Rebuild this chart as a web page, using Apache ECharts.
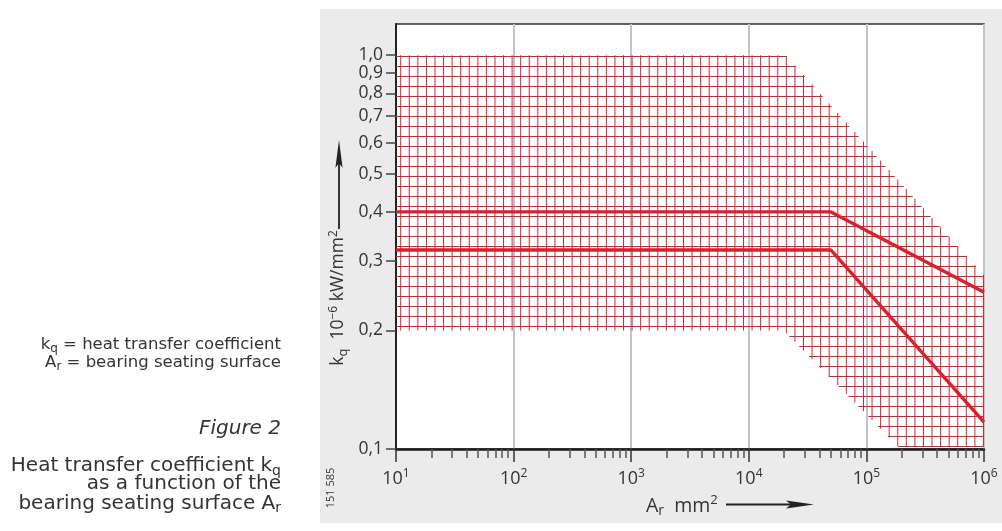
<!DOCTYPE html>
<html>
<head>
<meta charset="utf-8">
<script src="https://cdn.jsdelivr.net/npm/echarts@6/dist/echarts.min.js"></script>
<style>
html,body{margin:0;padding:0;background:#ffffff;}
#chart{width:1002px;height:531px;}
</style>
</head>
<body>
<div id="chart"></div>
<script>
// ---------- data ----------
const X_MIN = 10, X_MAX = 1000000;
const Y_MIN = 0.1, Y_MAX = 1.2;
const X_MAJOR_TICKS = [10, 100, 1000, 10000, 100000, 1000000];
const X_TICK_EXPONENTS = ['1', '2', '3', '4', '5', '6'];
const X_MINOR_FACTORS = [2, 3, 4, 5, 6, 7, 8, 9];
const Y_TICKS = [0.1, 0.2, 0.3, 0.4, 0.5, 0.6, 0.7, 0.8, 0.9, 1.0];
const Y_TICK_LABELS = ['0,1', '0,2', '0,3', '0,4', '0,5', '0,6', '0,7', '0,8', '0,9', '1,0'];

// hatched region (polygon vertices): A_r [mm²], k_q
const REGION_A = [10, 20600, 1000000, 1000000, 188000, 19800, 10];
const REGION_K = [1.0, 1.0, 0.276, 0.1012, 0.1012, 0.2, 0.2];

// two limit curves
const UPPER_A = [10, 50000, 1000000];
const UPPER_K = [0.4, 0.4, 0.25];
const LOWER_A = [10, 50000, 1000000];
const LOWER_K = [0.32, 0.32, 0.117];

// ---------- style ----------
const FONT = '"Open Sans", "Noto Sans", sans-serif';
const FONT2 = '"DejaVu Sans", "Open Sans", sans-serif';
const TXT = '#333333';
const RED = '#e3202b';
const LINE_RED = '#d8222d';
const HATCH = { dx: 8.57, dy: 10, colOffset: 4.7, rowOffset: 1 };

const X_MINOR_TICKS = [];
X_MAJOR_TICKS.slice(0, -1).forEach(d => X_MINOR_FACTORS.forEach(f => X_MINOR_TICKS.push(f * d)));

function near(a, b) { return Math.abs(a - b) <= Math.abs(b) * 1e-6; }

function hatchItem(params, api) {
  if (params.dataIndex !== 0) return null;
  const pts = REGION_A.map((a, i) => api.coord([a, REGION_K[i]]));
  const xs = pts.map(p => p[0]), ys = pts.map(p => p[1]);
  const x0 = Math.min.apply(null, xs), x1 = Math.max.apply(null, xs);
  const y0 = Math.min.apply(null, ys), y1 = Math.max.apply(null, ys);
  function cross(axis, v) {
    const out = [];
    for (let i = 0; i < pts.length; i++) {
      const p = pts[i], q = pts[(i + 1) % pts.length];
      const a = p[axis], b = q[axis];
      if (a === b) continue;
      if ((v - a) * (v - b) <= 0) {
        const t = (v - a) / (b - a);
        out.push(p[1 - axis] + t * (q[1 - axis] - p[1 - axis]));
      }
    }
    return out;
  }
  const children = [];
  for (let y = y0 + HATCH.rowOffset; y <= y1 + 0.01; y += HATCH.dy) {
    const c = cross(1, y);
    if (c.length < 2) continue;
    const a = Math.min.apply(null, c), b = Math.max.apply(null, c);
    children.push({ type: 'rect', shape: { x: a, y: Math.floor(y), width: b - a, height: 1 },
      style: { fill: RED } });
  }
  for (let x = x0 + HATCH.colOffset; x <= x1 + 0.01; x += HATCH.dx) {
    const c = cross(0, x);
    if (c.length < 2) continue;
    const a = Math.min.apply(null, c), b = Math.max.apply(null, c);
    children.push({ type: 'rect', shape: { x: x - 0.5, y: a, width: 1, height: b - a },
      style: { fill: RED } });
  }
  return { type: 'group', children: children };
}

const chart = echarts.init(document.getElementById('chart'), null, { renderer: 'canvas' });

const richSub = (size, fam) => ({
  m: { fontSize: size, lineHeight: size + 5, fontFamily: fam || FONT, fill: TXT },
  s: { fontSize: Math.round(size * 0.72), lineHeight: 8, verticalAlign: 'bottom', fontFamily: fam || FONT, fill: TXT },
  sup: { fontSize: Math.round(size * 0.68), lineHeight: 8, verticalAlign: 'top', fontFamily: fam || FONT, fill: TXT }
});

function leftText(x, y, text, size, italic) {
  const rich = richSub(size, FONT2);
  if (italic) { rich.m.fontStyle = 'italic'; }
  return { type: 'text', x: x, y: y, z: 100,
    style: { text: text, align: 'right', verticalAlign: 'middle', rich: rich, fontFamily: FONT2, fill: TXT } };
}

const option = {
  backgroundColor: '#ffffff',
  animation: false,
  grid: { left: 396, top: 24, right: 18, bottom: 82, show: true, backgroundColor: '#ffffff',
    borderColor: '#333333', borderWidth: 1.5, containLabel: false, outerBoundsMode: 'none' },
  xAxis: [
    { type: 'log', logBase: 10, min: X_MIN, max: X_MAX, position: 'bottom',
      axisLine: { show: true, onZero: false, lineStyle: { color: '#1c1c1c', width: 2.5 } },
      axisTick: { show: true, customValues: X_MAJOR_TICKS, length: 13, lineStyle: { color: '#333', width: 1.5 } },
      axisLabel: { show: true, customValues: X_MAJOR_TICKS, margin: 19,
        formatter: function (v) {
          let i = X_MAJOR_TICKS.findIndex(t => near(v, t));
          return i < 0 ? '' : '{b|10}{sup|' + X_TICK_EXPONENTS[i] + '}';
        },
        rich: {
          b: { fontSize: 18, lineHeight: 22, fontFamily: FONT, color: TXT },
          sup: { fontSize: 12, lineHeight: 10, verticalAlign: 'top', fontFamily: FONT, color: TXT }
        } },
      splitLine: { show: true, lineStyle: { color: '#c3c3c8', width: 2 } },
      minorTick: { show: false }, minorSplitLine: { show: false } },
    { type: 'log', logBase: 10, min: X_MIN, max: X_MAX, position: 'bottom', gridIndex: 0,
      axisLine: { show: false, onZero: false },
      axisTick: { show: true, customValues: X_MINOR_TICKS, length: 9, lineStyle: { color: '#555', width: 1.5 } },
      axisLabel: { show: false }, splitLine: { show: false } }
  ],
  yAxis: {
    type: 'log', logBase: 10, min: Y_MIN, max: Y_MAX,
    axisLine: { show: true, onZero: false, lineStyle: { color: '#222', width: 2 } },
    axisTick: { show: true, customValues: Y_TICKS, length: 10, lineStyle: { color: '#444', width: 1.5 } },
    axisLabel: { show: true, customValues: Y_TICKS, margin: 13, fontSize: 17.5, fontFamily: FONT, color: TXT,
      formatter: function (v) {
        let i = Y_TICKS.findIndex(t => near(v, t));
        return i < 0 ? '' : Y_TICK_LABELS[i];
      } },
    splitLine: { show: false }, minorTick: { show: false }
  },
  series: [
    { type: 'custom', name: 'region', coordinateSystem: 'cartesian2d', xAxisIndex: 0, yAxisIndex: 0,
      silent: true, z: 2, renderItem: hatchItem, data: [[REGION_A[0], REGION_K[0]]] },
    { type: 'line', name: 'upper', xAxisIndex: 0, yAxisIndex: 0, silent: true, z: 4, symbol: 'none',
      lineStyle: { color: LINE_RED, width: 3.4 }, data: UPPER_A.map((a, i) => [a, UPPER_K[i]]) },
    { type: 'line', name: 'lower', xAxisIndex: 0, yAxisIndex: 0, silent: true, z: 4, symbol: 'none',
      lineStyle: { color: LINE_RED, width: 3.4 }, data: LOWER_A.map((a, i) => [a, LOWER_K[i]]) }
  ],
  graphic: [
    { type: 'rect', z: -100, shape: { x: 320, y: 9, width: 682, height: 514 }, style: { fill: '#ebebeb' } },
    // y axis name + arrow
    { type: 'text', x: 338.5, y: 298, rotation: Math.PI / 2, z: 100,
      style: { text: '{m|k}{s|q}{m|  10}{sup|−6}{m| kW/mm}{sup|2}', align: 'center', verticalAlign: 'middle',
        rich: richSub(17.5), fontFamily: FONT, fill: TXT } },
    { type: 'line', z: 100, shape: { x1: 339, y1: 229, x2: 339, y2: 160 }, style: { stroke: '#222', lineWidth: 1.8 } },
    { type: 'polygon', z: 100, shape: { points: [[339, 140], [342.6, 168], [339, 163], [335.4, 168]] }, style: { fill: '#222' } },
    // x axis name + arrow
    { type: 'text', x: 646, y: 506, z: 100,
      style: { text: '{m|A}{s|r}{m|  mm}{sup|2}', align: 'left', verticalAlign: 'middle',
        rich: richSub(19.5), fontFamily: FONT, fill: TXT } },
    { type: 'line', z: 100, shape: { x1: 726, y1: 504.5, x2: 795, y2: 504.5 }, style: { stroke: '#222', lineWidth: 1.8 } },
    { type: 'polygon', z: 100, shape: { points: [[814, 504.5], [786, 500.6], [791, 504.5], [786, 508.4]] }, style: { fill: '#222' } },
    // figure number
    { type: 'text', x: 331, y: 488, rotation: Math.PI / 2, z: 100,
      style: { text: '151 585', align: 'center', verticalAlign: 'middle', fontSize: 11, fontFamily: FONT, fill: TXT } },
    // left legend / caption
    leftText(281, 344.3, '{m|k}{s|q}{m| = heat transfer coefficient}', 16.5),
    leftText(281, 362.3, '{m|A}{s|r}{m| = bearing seating surface}', 16.5),
    leftText(281, 429, '{m|Figure 2}', 20, true),
    leftText(281, 465.7, '{m|Heat transfer coefficient k}{s|q}', 20),
    leftText(281, 484, '{m|as a function of the}', 20),
    leftText(281, 503.3, '{m|bearing seating surface A}{s|r}', 20)
  ]
};
chart.setOption(option);
</script>
</body>
</html>
